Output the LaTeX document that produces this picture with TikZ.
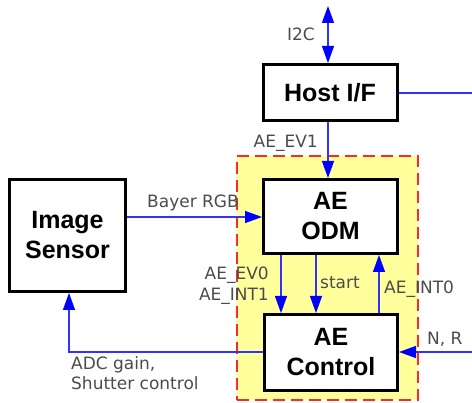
\documentclass[tikz,border=0pt]{standalone}
\usepackage{fontspec}
\setmainfont{Liberation Sans}
\newfontfamily\lblfont{DejaVu Sans}
\usetikzlibrary{arrows.meta}
\definecolor{lblgray}{RGB}{75,75,75}
\definecolor{dashred}{RGB}{255,40,40}
\definecolor{boxyellow}{RGB}{255,255,155}
\definecolor{sigblue}{RGB}{50,50,255}
\begin{document}
\begin{tikzpicture}[x=1pt,y=-1pt,
  blk/.style={draw=black,line width=3pt,fill=white,align=center,inner sep=0pt,
    font=\fontsize{25}{30}\selectfont\bfseries},
  lbl/.style={inner sep=0pt,text=lblgray,font=\lblfont\fontsize{17}{21}\selectfont,align=left},
  sig/.style={draw=sigblue,line width=1.2pt},
  arr/.style={sig,-{Triangle[width=12pt,length=17pt,fill=blue,color=blue]}},
  darr/.style={sig,{Triangle[width=12pt,length=17pt,fill=blue,color=blue]}-{Triangle[width=12pt,length=17pt,fill=blue,color=blue]}}]
\useasboundingbox (0,0) rectangle (472,403);
% dashed region
\node[draw=dashred,line width=2pt,dash pattern=on 12pt off 6pt,fill=boxyellow,
  minimum width=181pt,minimum height=244pt,inner sep=0pt] (region) at (327.5,278) {};
% blocks
\node[blk,minimum width=134pt,minimum height=56pt] (host) at (330,92.5) {Host I/F};
\node[blk,minimum width=134pt,minimum height=74pt] (odm) at (330.5,216.5) {AE\\ODM};
\node[blk,minimum width=133pt,minimum height=76pt] (ctrl) at (331,352.5) {AE\\Control};
\node[blk,minimum width=116pt,minimum height=112pt] (sensor) at (67.5,235.5) {Image\\Sensor};
% coordinates
\coordinate (i2ctop) at (328,6);
\coordinate (hostout) at (472,93);
\coordinate (nrin) at (472,352);
\coordinate (adccorner) at (69,352);
% connectors
\draw[darr] (i2ctop) -- (i2ctop |- host.north);
\draw[sig] (host.east |- hostout) -- (hostout);
\draw[arr] (host.south -| i2ctop) -- (odm.north -| i2ctop);
\draw[arr] (sensor.east |- 0,217) -- (odm.west |- 0,217);
\draw[arr] (odm.south -| 281,0) -- (ctrl.north -| 281,0);
\draw[arr] (odm.south -| 316,0) -- (ctrl.north -| 316,0);
\draw[arr] (ctrl.north -| 379,0) -- (odm.south -| 379,0);
\draw[arr] (nrin) -- (ctrl.east |- nrin);
\draw[arr] (ctrl.west |- adccorner) -- (adccorner) -- (sensor.south -| adccorner);
% labels
\node[lbl,anchor=east] (li2c) at (315,34) {I2C};
\node[lbl,anchor=east] (lev1) at (318,143) {AE\_EV1};
\node[lbl,anchor=west] (lbayer) at (147,203) {Bayer RGB};
\node[lbl,anchor=east,align=right] (lev0) at (269,286) {AE\_EV0\\AE\_INT1};
\node[lbl,anchor=west] (lstart) at (320,283) {start};
\node[lbl,anchor=west] (lint0) at (384,289) {AE\_INT0};
\node[lbl,anchor=west] (lnr) at (427,339) {N, R};
\node[lbl,anchor=north west,font=\lblfont\fontsize{17}{20}\selectfont] (ladc) at (71,356) {ADC gain,\\Shutter control};
\end{tikzpicture}
\end{document}
